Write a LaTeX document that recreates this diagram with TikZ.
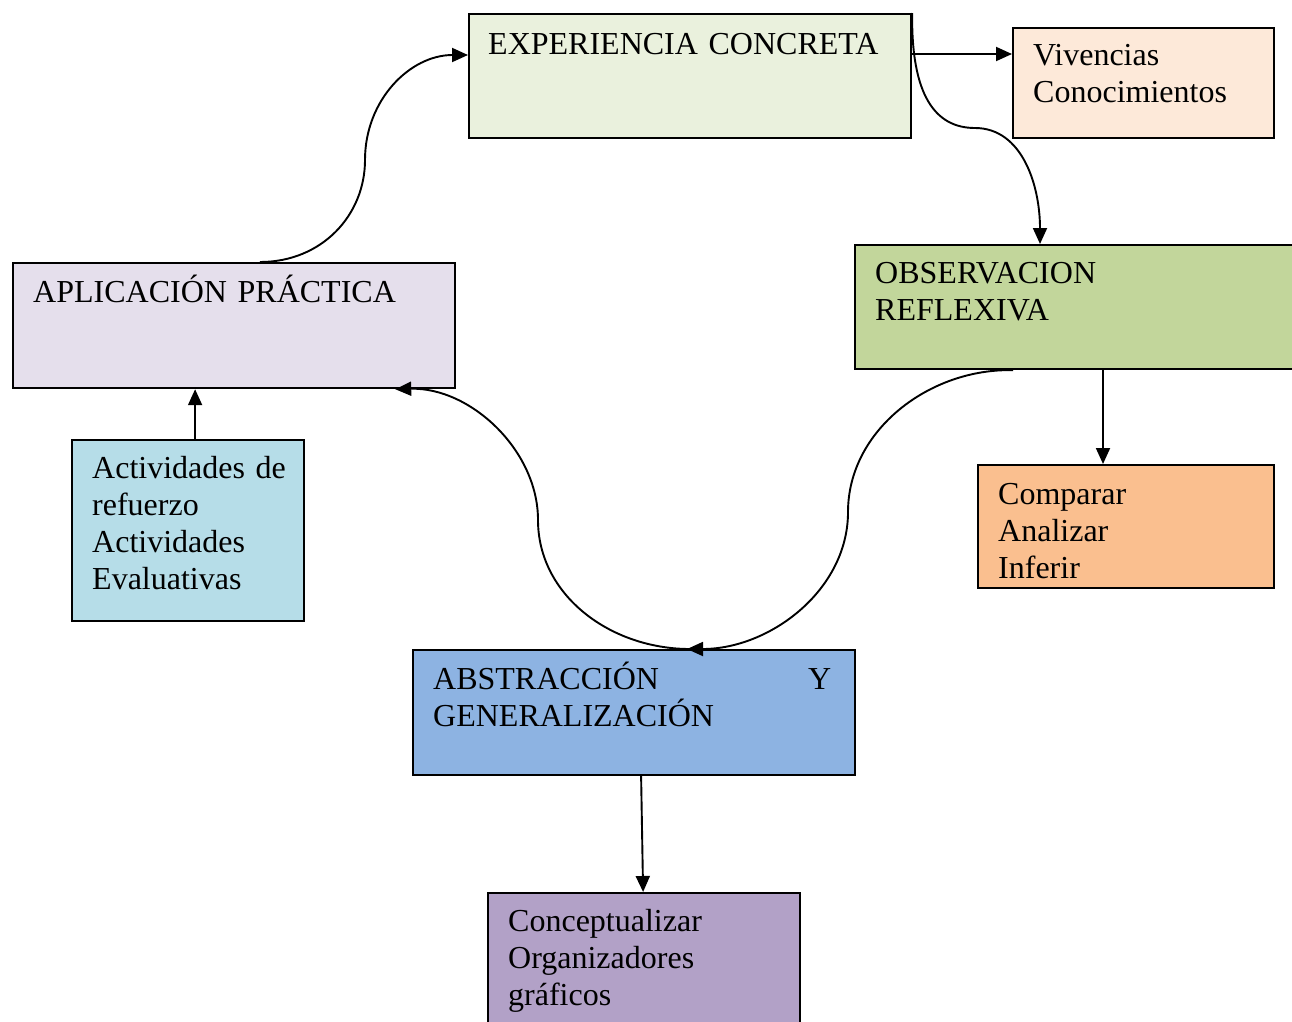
\documentclass[tikz,border=0pt]{standalone}
\usepackage{fontspec}
\setmainfont{Liberation Serif}
\usetikzlibrary{arrows.meta,calc}
\definecolor{cEC}{HTML}{EAF1DD}
\definecolor{cVIV}{HTML}{FDE9D9}
\definecolor{cOBS}{HTML}{C2D69B}
\definecolor{cCMP}{HTML}{FABF8F}
\definecolor{cABS}{HTML}{8DB3E2}
\definecolor{cCON}{HTML}{B2A1C7}
\definecolor{cAPL}{HTML}{E5DFEC}
\definecolor{cACT}{HTML}{B6DDE8}
\tikzset{
  box/.style={draw=black, line width=2.2pt, anchor=north west, inner sep=0pt, rectangle},
  txt/.style={anchor=base west, inner sep=0pt, text width=430pt, align=left,
    font=\fontsize{32}{37.3}\selectfont},
  arr/.style={line width=1.9pt, -{Triangle[length=16pt,width=14pt]}}
}
\begin{document}
\begin{tikzpicture}[x=1pt,y=-1pt]
\useasboundingbox (0,0) rectangle (1292,1021);
% boxes
\node[box, fill=cEC, minimum width=442pt, minimum height=124pt] (ec) at (468,13) {};
\node[box, fill=cVIV, minimum width=261pt, minimum height=110pt] (viv) at (1012,27) {};
\node[box, fill=cOBS, minimum width=450pt, minimum height=124pt] (obs) at (854,244) {};
\node[box, fill=cCMP, minimum width=296pt, minimum height=123pt] (cmp) at (977,464) {};
\node[box, fill=cABS, minimum width=442pt, minimum height=125pt] (abs) at (412,649) {};
\node[box, fill=cCON, minimum width=312pt, minimum height=140pt] (con) at (487,892) {};
\node[box, fill=cAPL, minimum width=442pt, minimum height=125pt] (apl) at (12,262) {};
\node[box, fill=cACT, minimum width=232pt, minimum height=181pt] (act) at (71,439) {};
% texts
\node[txt] (ect) at (488,54) {EXPERIENCIA CONCRETA};
\node[txt] (vivt) at (1033,65) {Vivencias\\Conocimientos};
\node[txt] (obst) at (875,283) {OBSERVACION\\REFLEXIVA};
\node[txt] (cmpt) at (998,504) {Comparar\\Analizar\\Inferir};
\node[txt] (abst) at (433,689) {\makebox[398pt][l]{ABSTRACCIÓN\hfill Y}\\GENERALIZACIÓN};
\node[txt] (cont) at (508,931) {Conceptualizar\\Organizadores\\gráficos};
\node[txt] (aplt) at (33,302) {APLICACIÓN PRÁCTICA};
\node[txt] (actt) at (92,478) {Actividades de\\refuerzo\\Actividades\\Evaluativas};
% connectors
\coordinate (a1) at ([yshift=-41pt]ec.north east);
\draw[arr] (a1) -- (a1 -| viv.west);
\draw[arr] (ec.north east) .. controls (911,95) and (935,128) .. (975,128)
  .. controls (1022,128) and (1040,185) .. ([xshift=186pt]obs.north west);
\draw[arr] ([xshift=249pt]obs.south west) -- ([xshift=249pt]obs.south west |- cmp.north);
\draw[arr] ([xshift=159pt]obs.south west) .. controls (930,368) and (848,430) .. (848,512)
  .. controls (848,590) and (770,649) .. ([xshift=275pt]abs.north west);
\draw[arr] ([xshift=278pt]abs.north west) .. controls (610,649) and (538,595) .. (538,520)
  .. controls (538,450) and (470,387) .. ([xshift=-61pt]apl.south east);
\draw[arr] ([xshift=7pt]act.north) -- ([xshift=7pt]act.north |- apl.south);
\draw[arr] ([xshift=248pt]apl.north west) .. controls (322,262) and (365,215) .. (365,160)
  .. controls (365,100) and (410,55) .. ([yshift=-42pt]ec.north west);
\draw[arr] ([xshift=7pt]abs.south) -- ([xshift=9pt]abs.south |- con.north);
\end{tikzpicture}
\end{document}
